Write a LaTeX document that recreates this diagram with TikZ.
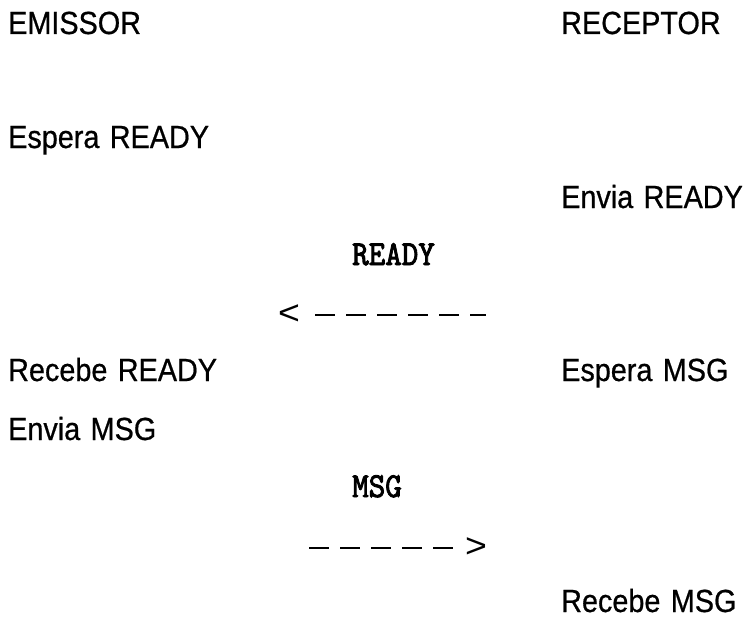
\documentclass[tikz,border=0pt]{standalone}
\usepackage{fontspec}
\setmainfont{Liberation Sans}[FakeStretch=0.9,FakeBold=0.6,WordSpace=1.3]
\newfontfamily\labelfont{lmmono10-regular.otf}[FakeStretch=0.9,FakeBold=2.5]
\newfontfamily\tipfont{Liberation Sans}[FakeStretch=1.1]
\begin{document}
\begin{tikzpicture}[x=1pt,y=-1pt,
  txt/.style={anchor=base west,inner sep=0pt,font=\fontsize{32}{38}\selectfont},
  lbl/.style={anchor=base west,inner sep=0pt,font=\labelfont\fontsize{35}{40}\selectfont},
  tip/.style={anchor=center,inner sep=0pt,font=\tipfont\fontsize{34}{40}\selectfont},
  dashline/.style={line width=2.8pt,dash pattern=on 20pt off 11pt}]
\useasboundingbox (0,0) rectangle (747,618);
\node[txt] (emissor) at (8,34) {EMISSOR};
\node[txt] (receptor) at (561,34) {RECEPTOR};
\node[txt] (esperaready) at (8,148) {Espera READY};
\node[txt] (enviaready) at (561,208) {Envia READY};
\node[lbl] (ready) at (352,265) {READY};
\node[tip] (lt) at (289,315) {<};
\coordinate (rend) at (486,315);
\draw[dashline] ([xshift=15pt]lt.east) -- (rend);
\node[txt] (recebeready) at (8,381) {Recebe READY};
\node[txt] (esperamsg) at (561,381) {Espera MSG};
\node[txt] (enviamsg) at (8,440) {Envia MSG};
\node[lbl] (msg) at (352,497) {MSG};
\coordinate (mstart) at (309,548);
\node[tip] (gt) at (476,548) {>};
\draw[dashline] (mstart) -- ([xshift=-12pt]gt.west);
\node[txt] (recebemsg) at (561,612) {Recebe MSG};
\end{tikzpicture}
\end{document}
